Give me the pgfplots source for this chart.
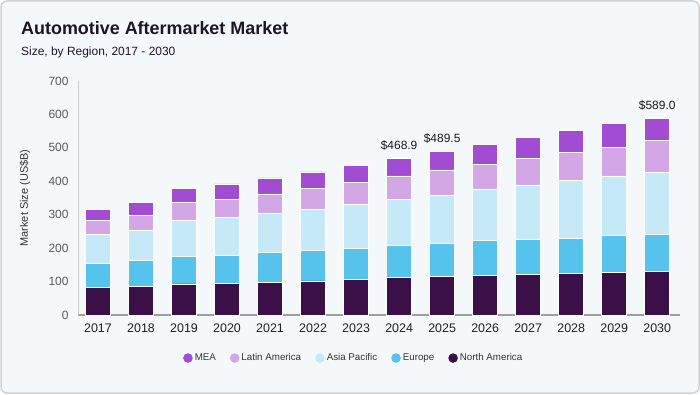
\documentclass[border=0pt]{standalone}
\usepackage{pgfplots}
\pgfplotsset{compat=1.18}
\usepackage{fontspec}
\setmainfont{Liberation Sans}
\definecolor{bgc}{HTML}{F5F8FB}
\definecolor{cMEA}{HTML}{A24BD3}
\definecolor{cLA}{HTML}{D3A6E6}
\definecolor{cAP}{HTML}{C5E9F7}
\definecolor{cEU}{HTML}{55C3EC}
\definecolor{cNA}{HTML}{3B0F48}
\definecolor{ttl}{HTML}{1E1428}
\begin{document}
\begin{tikzpicture}[x=1bp,y=1bp]
\useasboundingbox (0,0) rectangle (700,394);
\fill[bgc,draw=gray!35,line width=1.5bp,rounded corners=6bp] (1,1) rectangle (699,393);
\node[anchor=base west,inner sep=0,font=\fontsize{18}{21}\selectfont\bfseries,text=ttl] at (21,360) {Automotive Aftermarket Market};
\node[anchor=base west,inner sep=0,font=\fontsize{12}{14}\selectfont,text=ttl] at (21,339) {Size, by Region, 2017 - 2030};
\begin{axis}[
  at={(78bp,79bp)}, anchor=south west,
  scale only axis, width=602bp, height=234bp,
  ybar stacked, bar width=25bp,
  xmin=-0.465, xmax=13.53, ymin=0, ymax=700,
  ytick={0,100,...,700},
  xtick={0,...,13},
  xticklabels={2017,2018,2019,2020,2021,2022,2023,2024,2025,2026,2027,2028,2029,2030},
  axis x line*=bottom, axis y line*=left,
  x axis line style={draw=gray!75,line width=1.2bp},
  y axis line style={draw=gray!40,line width=1bp},
  major tick length=0pt,
  /pgf/number format/assume math mode=true,
  yticklabel style={text=black!65,font=\fontsize{12}{14}\selectfont,xshift=-6bp},
  xticklabel style={text=black!88,font=\fontsize{12.5}{15}\selectfont,yshift=-5bp},
  ylabel={Market Size (US\$B)},
  ylabel style={at={(axis description cs:-0.088,0.5)},anchor=center,font=\fontsize{11}{13}\selectfont,text=black!80},
  reverse legend,
  legend columns=5,
  legend style={draw=none,fill=none,at={(0.458,-0.184)},anchor=center,
    font=\fontsize{9.8}{11}\selectfont,text=black!80,
    /tikz/every odd column/.append style={column sep=0bp},
    /tikz/every even column/.append style={column sep=12bp}},
  every axis plot/.append style={draw=white,line width=0.8bp},
  every axis plot post/.append style={
    legend image code/.code={\fill[draw=none] (4.5bp,0bp) circle (4.8bp);}},
]
\addplot[fill=cNA,draw=white] coordinates {(0,82) (1,85) (2,93) (3,94) (4,98) (5,102) (6,106) (7,112) (8,115) (9,118) (10,122) (11,125) (12,128) (13,130)};
\addplot[fill=cEU,draw=white] coordinates {(0,73) (1,77) (2,82) (3,85) (4,89) (5,92) (6,94) (7,95) (8,100) (9,104) (10,105) (11,105) (12,109) (13,110)};
\addplot[fill=cAP,draw=white] coordinates {(0,87) (1,92) (2,109) (3,113) (4,117) (5,123) (6,130) (7,139) (8,143) (9,154) (10,162) (11,172) (12,179) (13,187)};
\addplot[fill=cLA,draw=white] coordinates {(0,42) (1,45) (2,53) (3,55) (4,58) (5,62) (6,66) (7,70) (8,76) (9,75) (10,80) (11,84) (12,85) (13,94)};
\addplot[fill=cMEA,draw=white] coordinates {(0,33) (1,37) (2,42) (3,45) (4,48) (5,49) (6,52) (7,52.9) (8,55.5) (9,60) (10,62) (11,66) (12,71) (13,68)};
\legend{North America,Europe,Asia Pacific,Latin America,MEA}
\node[anchor=base,font=\fontsize{12}{14}\selectfont,text=black!90] at (axis cs:7,468.9) [yshift=9bp] {\$468.9};
\node[anchor=base,font=\fontsize{12}{14}\selectfont,text=black!90] at (axis cs:8,489.5) [yshift=9bp] {\$489.5};
\node[anchor=base,font=\fontsize{12}{14}\selectfont,text=black!90] at (axis cs:13,589) [yshift=9bp] {\$589.0};
\end{axis}
\end{tikzpicture}
\end{document}
